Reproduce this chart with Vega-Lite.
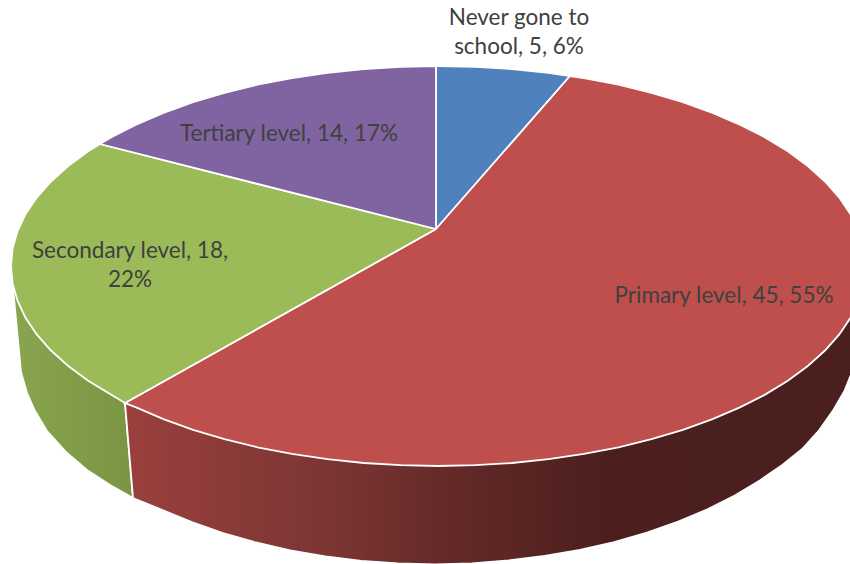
{"$schema":"https://vega.github.io/schema/vega-lite/v6.json","autosize":{"type":"fit","contains":"padding"},"width":850,"height":564,"padding":0,"background":"white","view":{"stroke":null},
"datasets":{
"top":[
{"slice":"Never gone to school","i":0,"x":436,"y":229},{"slice":"Never gone to school","i":1,"x":436,"y":66},{"slice":"Never gone to school","i":2,"x":438,"y":66},{"slice":"Never gone to school","i":3,"x":475.2,"y":66.8},{"slice":"Never gone to school","i":4,"x":512.1,"y":69},{"slice":"Never gone to school","i":5,"x":548.5,"y":72.8},{"slice":"Never gone to school","i":6,"x":570,"y":76},{"slice":"Never gone to school","i":7,"x":436,"y":229},
{"slice":"Primary level","i":0,"x":436,"y":229},{"slice":"Primary level","i":1,"x":570,"y":76},{"slice":"Primary level","i":2,"x":584,"y":78.1},{"slice":"Primary level","i":3,"x":618.5,"y":84.7},{"slice":"Primary level","i":4,"x":651.5,"y":92.8},{"slice":"Primary level","i":5,"x":682.9,"y":102.2},{"slice":"Primary level","i":6,"x":712.5,"y":112.8},{"slice":"Primary level","i":7,"x":739.9,"y":124.6},{"slice":"Primary level","i":8,"x":765.1,"y":137.4},{"slice":"Primary level","i":9,"x":787.8,"y":151.3},{"slice":"Primary level","i":10,"x":807.8,"y":166},{"slice":"Primary level","i":11,"x":825,"y":181.5},{"slice":"Primary level","i":12,"x":839.3,"y":197.6},{"slice":"Primary level","i":13,"x":850.5,"y":214.2},{"slice":"Primary level","i":14,"x":858.5,"y":231.3},{"slice":"Primary level","i":15,"x":863.4,"y":248.6},{"slice":"Primary level","i":16,"x":865,"y":266},{"slice":"Primary level","i":17,"x":863.4,"y":283.4},{"slice":"Primary level","i":18,"x":858.5,"y":300.7},{"slice":"Primary level","i":19,"x":850.5,"y":317.8},{"slice":"Primary level","i":20,"x":839.3,"y":334.4},{"slice":"Primary level","i":21,"x":825,"y":350.5},{"slice":"Primary level","i":22,"x":807.8,"y":366},{"slice":"Primary level","i":23,"x":787.8,"y":380.7},{"slice":"Primary level","i":24,"x":765.1,"y":394.6},{"slice":"Primary level","i":25,"x":739.9,"y":407.4},{"slice":"Primary level","i":26,"x":712.5,"y":419.2},{"slice":"Primary level","i":27,"x":682.9,"y":429.8},{"slice":"Primary level","i":28,"x":651.5,"y":439.2},{"slice":"Primary level","i":29,"x":618.5,"y":447.3},{"slice":"Primary level","i":30,"x":584,"y":453.9},{"slice":"Primary level","i":31,"x":548.5,"y":459.2},{"slice":"Primary level","i":32,"x":512.1,"y":463},{"slice":"Primary level","i":33,"x":475.2,"y":465.2},{"slice":"Primary level","i":34,"x":438,"y":466},{"slice":"Primary level","i":35,"x":400.8,"y":465.2},{"slice":"Primary level","i":36,"x":363.9,"y":463},{"slice":"Primary level","i":37,"x":327.5,"y":459.2},{"slice":"Primary level","i":38,"x":292,"y":453.9},{"slice":"Primary level","i":39,"x":257.5,"y":447.3},{"slice":"Primary level","i":40,"x":224.5,"y":439.2},{"slice":"Primary level","i":41,"x":193.1,"y":429.8},{"slice":"Primary level","i":42,"x":163.5,"y":419.2},{"slice":"Primary level","i":43,"x":136.1,"y":407.4},{"slice":"Primary level","i":44,"x":125,"y":403},{"slice":"Primary level","i":45,"x":436,"y":229},
{"slice":"Secondary level","i":0,"x":436,"y":229},{"slice":"Secondary level","i":1,"x":125,"y":403},{"slice":"Secondary level","i":2,"x":110.9,"y":394.6},{"slice":"Secondary level","i":3,"x":88.2,"y":380.7},{"slice":"Secondary level","i":4,"x":68.2,"y":366},{"slice":"Secondary level","i":5,"x":51,"y":350.5},{"slice":"Secondary level","i":6,"x":36.7,"y":334.4},{"slice":"Secondary level","i":7,"x":25.5,"y":317.8},{"slice":"Secondary level","i":8,"x":17.5,"y":300.7},{"slice":"Secondary level","i":9,"x":12.6,"y":283.4},{"slice":"Secondary level","i":10,"x":11,"y":266},{"slice":"Secondary level","i":11,"x":12.6,"y":248.6},{"slice":"Secondary level","i":12,"x":17.5,"y":231.3},{"slice":"Secondary level","i":13,"x":25.5,"y":214.2},{"slice":"Secondary level","i":14,"x":36.7,"y":197.6},{"slice":"Secondary level","i":15,"x":51,"y":181.5},{"slice":"Secondary level","i":16,"x":68.2,"y":166},{"slice":"Secondary level","i":17,"x":88.2,"y":151.3},{"slice":"Secondary level","i":18,"x":100,"y":144},{"slice":"Secondary level","i":19,"x":436,"y":229},
{"slice":"Tertiary level","i":0,"x":436,"y":229},{"slice":"Tertiary level","i":1,"x":100,"y":144},{"slice":"Tertiary level","i":2,"x":110.9,"y":137.4},{"slice":"Tertiary level","i":3,"x":136.1,"y":124.6},{"slice":"Tertiary level","i":4,"x":163.5,"y":112.8},{"slice":"Tertiary level","i":5,"x":193.1,"y":102.2},{"slice":"Tertiary level","i":6,"x":224.5,"y":92.8},{"slice":"Tertiary level","i":7,"x":257.5,"y":84.7},{"slice":"Tertiary level","i":8,"x":292,"y":78.1},{"slice":"Tertiary level","i":9,"x":327.5,"y":72.8},{"slice":"Tertiary level","i":10,"x":363.9,"y":69},{"slice":"Tertiary level","i":11,"x":400.8,"y":66.8},{"slice":"Tertiary level","i":12,"x":436,"y":66},{"slice":"Tertiary level","i":13,"x":436,"y":229}
],
"sideRed":[
{"i":0,"x":125,"y":403},{"i":1,"x":133,"y":498},{"i":2,"x":162.5,"y":510},{"i":3,"x":191.8,"y":522},{"i":4,"x":223,"y":533},{"i":5,"x":255.8,"y":542.5},{"i":6,"x":290,"y":550.5},{"i":7,"x":325.3,"y":556.5},{"i":8,"x":361.4,"y":561},{"i":9,"x":398,"y":563.5},{"i":10,"x":435,"y":564.5},{"i":11,"x":472,"y":563.5},{"i":12,"x":508.6,"y":560.4},{"i":13,"x":544.7,"y":556},{"i":14,"x":580,"y":549.9},{"i":15,"x":614.2,"y":542.1},{"i":16,"x":647,"y":532.6},{"i":17,"x":678.2,"y":521.7},{"i":18,"x":707.5,"y":509.3},{"i":19,"x":734.8,"y":495.5},{"i":20,"x":759.8,"y":480.4},{"i":21,"x":782.3,"y":465},{"i":22,"x":802.2,"y":449},{"i":23,"x":819.3,"y":430},{"i":24,"x":833.4,"y":410},{"i":25,"x":844.6,"y":390.6},{"i":26,"x":852.6,"y":370.6},{"i":27,"x":857.4,"y":350.4},{"i":28,"x":858.5,"y":300.7},{"i":29,"x":438,"y":300},{"i":30,"x":125,"y":403}
],
"sideGreen":[
{"i":0,"x":12.6,"y":283.4},{"i":1,"x":21,"y":372},{"i":2,"x":27,"y":393},{"i":3,"x":35,"y":411},{"i":4,"x":47,"y":431},{"i":5,"x":67,"y":453},{"i":6,"x":87,"y":470},{"i":7,"x":110,"y":485},{"i":8,"x":133,"y":498},{"i":9,"x":125,"y":403},{"i":10,"x":100,"y":300},{"i":11,"x":12.6,"y":283.4}
],
"labels":[
{"category":"Never gone to school","count":5,"percent":6,"label":["Never gone to","school, 5, 6%"],"x":519,"y":18},
{"category":"Primary level","count":45,"percent":55,"label":["Primary level, 45, 55%"],"x":724,"y":296},
{"category":"Secondary level","count":18,"percent":22,"label":["Secondary level, 18,","22%"],"x":130,"y":251},
{"category":"Tertiary level","count":14,"percent":17,"label":["Tertiary level, 14, 17%"],"x":289,"y":134}
]},
"encoding":{
"x":{"field":"x","type":"quantitative","axis":null,"scale":{"domain":[0,850],"nice":false,"zero":false}},
"y":{"field":"y","type":"quantitative","axis":null,"scale":{"domain":[0,564],"reverse":true,"nice":false,"zero":false}}
},
"layer":[
{"data":{"name":"sideGreen"},"mark":{"type":"line","filled":true,"clip":true,"stroke":"white","strokeWidth":1.8,"fill":{"gradient":"linear","x1":0,"y1":0,"x2":1,"y2":0,"stops":[{"offset":0,"color":"#89a54e"},{"offset":1,"color":"#7a9543"}]}},"encoding":{"order":{"field":"i","type":"quantitative"}}},
{"data":{"name":"sideRed"},"mark":{"type":"line","filled":true,"clip":true,"stroke":"white","strokeWidth":1.8,"fill":{"gradient":"linear","x1":0,"y1":0,"x2":1,"y2":0,"stops":[{"offset":0,"color":"#9a403e"},{"offset":0.28,"color":"#7b3533"},{"offset":0.44,"color":"#642a28"},{"offset":0.66,"color":"#4c1f1d"},{"offset":1,"color":"#4a1f1e"}]}},"encoding":{"order":{"field":"i","type":"quantitative"}}},
{"data":{"name":"top"},"mark":{"type":"line","filled":true,"clip":true,"stroke":"white","strokeWidth":1.8},"encoding":{"order":{"field":"i","type":"quantitative"},"detail":{"field":"slice"},"fill":{"field":"slice","type":"nominal","legend":null,"scale":{"domain":["Never gone to school","Primary level","Secondary level","Tertiary level"],"range":["#4f81bd","#be4f4c","#9bbb59","#8064a2"]}}}},
{"data":{"name":"labels"},"mark":{"type":"text","font":"Lato","fontSize":22.5,"color":"#404040","align":"center","baseline":"middle","lineHeight":29},"encoding":{"text":{"field":"label"}}}
]}
